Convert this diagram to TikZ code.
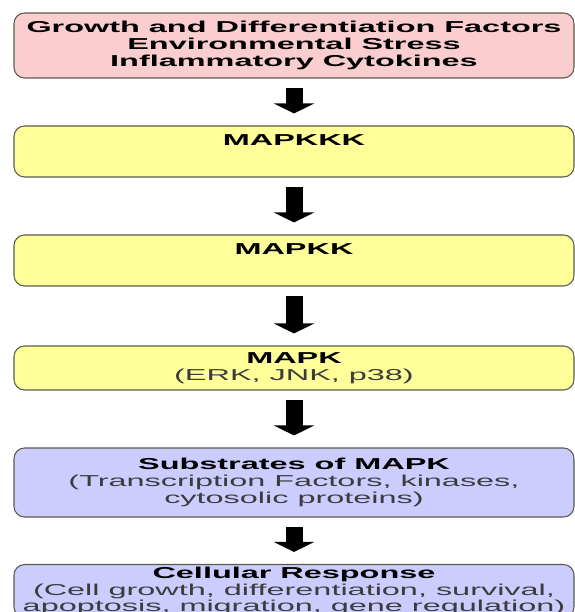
\documentclass[tikz,border=0pt]{standalone}
\usepackage{fontspec}
\newfontfamily\widesf{Liberation Sans}[FakeStretch=2.05]
\usetikzlibrary{arrows.meta}

\definecolor{stimpink}{RGB}{250,206,206}
\definecolor{kinyellow}{RGB}{255,255,153}
\definecolor{respblue}{RGB}{204,204,255}
\definecolor{edgegray}{RGB}{90,90,80}
\definecolor{subgray}{RGB}{60,60,60}

\begin{document}
\begin{tikzpicture}[
  box/.style={draw=edgegray, line width=0.6pt, rounded corners=6pt,
    minimum width=11.2cm, inner sep=0pt, align=center,
    font=\widesf\fontsize{9pt}{9.7pt}\selectfont},
  flow/.style={line width=0.34cm, -{Triangle[width=0.8cm,length=0.2cm]},
    shorten <=0.18cm, shorten >=0.24cm}
]
  \useasboundingbox (0,0) rectangle (11.48,12.24);
  \def\X{5.88}

  % Stimuli
  \node[box, fill=stimpink, minimum height=1.3cm] (stim) at (\X,11.33)
    {\textbf{Growth and Differentiation Factors}\\
     \textbf{Environmental Stress}\\
     \textbf{Inflammatory Cytokines}};

  % Kinase cascade
  \node[box, fill=kinyellow, minimum height=1.02cm] (mapkkk) at (\X,9.21)
    {\textbf{MAPKKK}\\ \strut};
  \node[box, fill=kinyellow, minimum height=1.02cm] (mapkk) at (\X,7.03)
    {\textbf{MAPKK}\\ \strut};
  \node[box, fill=kinyellow, minimum height=0.88cm] (mapk) at (\X,4.88)
    {\textbf{MAPK}\\ {\color{subgray}(ERK, JNK, p38)}};

  % Targets and response
  \node[box, fill=respblue, minimum height=1.38cm] (subs) at (\X,2.59)
    {\textbf{Substrates of MAPK}\\
     {\color{subgray}(Transcription Factors, kinases,}\\
     {\color{subgray}cytosolic proteins)}};
  \node[box, fill=respblue, minimum height=1.06cm,
        font=\widesf\fontsize{9pt}{9.2pt}\selectfont] (resp) at (\X,0.42)
    {\textbf{Cellular Response}\\
     {\color{subgray}(Cell growth, differentiation, survival,}\\
     {\color{subgray}apoptosis, migration, gene regulation)}};

  % Arrows
  \draw[flow] (stim) -- (mapkkk);
  \draw[flow] (mapkkk) -- (mapkk);
  \draw[flow] (mapkk) -- (mapk);
  \draw[flow] (mapk) -- (subs);
  \draw[flow] (subs) -- (resp);
\end{tikzpicture}
\end{document}
